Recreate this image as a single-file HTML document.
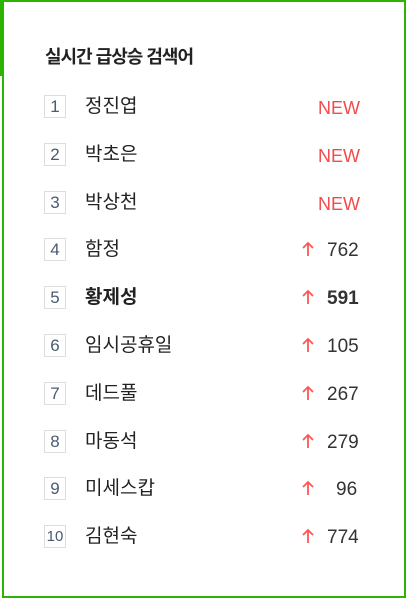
<!DOCTYPE html>
<html><head><meta charset="utf-8"><style>
body{margin:0;width:410px;height:598px;background:#fff;position:relative;overflow:hidden;font-family:"Liberation Sans","Noto Sans CJK KR",sans-serif}
#edge{position:absolute;left:0;top:0;width:4px;height:76px;background:#2db400}
#box{position:absolute;left:2px;top:0;width:400px;height:594px;border:2px solid #2db400;background:#fff}
#title{position:absolute;left:41px;top:41px;font-size:18px;font-weight:bold;color:#222;letter-spacing:-1px}
.row{position:absolute;left:0;width:400px;height:26px}
.num{position:absolute;left:40px;top:1px;width:20px;height:21px;border:1px solid #ddd;font-size:17px;color:#4a5a70;text-align:center;line-height:21px}
.name{position:absolute;left:81px;top:1px;font-size:19px;color:#222;line-height:24px}
.new{position:absolute;right:44px;top:2px;color:#f24b4b;font-size:18px;line-height:24px}
.arr{position:absolute;left:298px;top:4px;width:12px;height:16px}
.val{position:absolute;left:323px;top:2px;color:#333;font-size:19px;line-height:24px}
</style></head><body>
<div id="edge"></div>
<div id="box">
<div id="title">실시간 급상승 검색어</div>
<div id="list"></div>
</div>
<script>
const names=["정진엽","박초은","박상천","함정","황제성","임시공휴일","데드풀","마동석","미세스캅","김현숙"];
const values=["NEW","NEW","NEW","762","591","105","267","279","96","774"];
const list=document.getElementById('list');
const arrowSvg='<svg class="arr" viewBox="0 0 12 16"><path d="M6 2V15M1 7L6 2L11 7" stroke="#f55" stroke-width="1.8" fill="none"/></svg>';
names.forEach((n,i)=>{
 const r=document.createElement('div');r.className='row';r.style.top=(92+i*47.8)+'px';
 
 
 const bold=i===4?'font-weight:bold;':'';
 let right;
 if(values[i]==='NEW') right='<span class="new">NEW</span>';
 else right=arrowSvg+'<span class="val" style="'+bold+(values[i].length<3?'left:332px;':'')+'">'+values[i]+'</span>';
 r.innerHTML='<span class="num"'+(i===9?' style="font-size:15px"':'')+'>'+(i+1)+'</span><span class="name" style="'+bold+'">'+n+'</span>'+right;
 list.appendChild(r);
});
</script>
</body></html>
